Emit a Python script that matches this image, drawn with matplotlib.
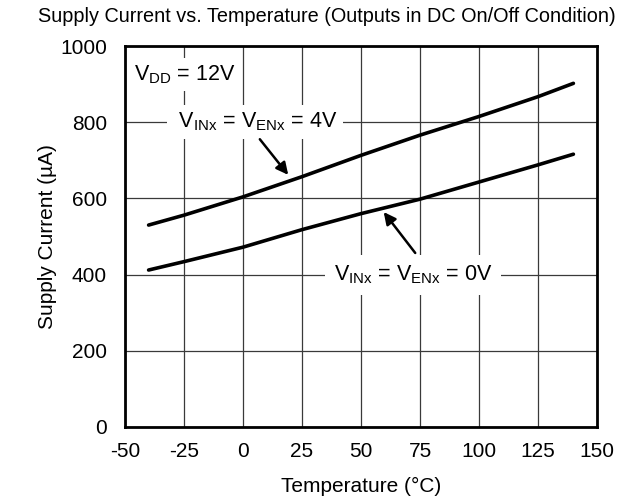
import matplotlib
matplotlib.use("Agg")
import matplotlib.pyplot as plt

temp = [-40, -25, 0, 25, 50, 75, 100, 125, 140]
on_4v = [530, 556, 604, 657, 713, 766, 815, 867, 902]
off_0v = [412, 434, 472, 518, 560, 598, 643, 688, 716]

xticks = [-50, -25, 0, 25, 50, 75, 100, 125, 150]
yticks = [0, 200, 400, 600, 800, 1000]

plt.rcParams['font.family'] = ['Liberation Sans', 'DejaVu Sans']
plt.rcParams['axes.unicode_minus'] = False
plt.rcParams['mathtext.fontset'] = 'custom'
plt.rcParams['mathtext.rm'] = 'Liberation Sans'

fig = plt.figure(figsize=(6.3, 4.99), dpi=100)
ax = fig.add_axes([125/630, 1-427/499, (597-125)/630, (427-46)/499])

ax.plot(temp, on_4v, color='black', lw=2.6, solid_capstyle='round', zorder=3)
ax.plot(temp, off_0v, color='black', lw=2.6, solid_capstyle='round', zorder=3)

ax.set_xlim(-50, 150)
ax.set_ylim(0, 1000)
ax.set_xticks(xticks)
ax.set_yticks(yticks)
ax.tick_params(axis='y', length=0, labelsize=15, pad=13)
ax.tick_params(axis='x', length=0, labelsize=15, pad=11)
ax.grid(True, color='#3a3a3a', lw=0.9)
ax.set_axisbelow(True)
for s in ax.spines.values():
    s.set_linewidth(2)

ax.set_xlabel('Temperature (°C)', fontsize=15, labelpad=11)
ax.set_ylabel('Supply Current (µA)', fontsize=15, labelpad=2)
fig.text(327/630, 1-17/499, 'Supply Current vs. Temperature (Outputs in DC On/Off Condition)',
         ha='center', va='center', fontsize=14.3)

box = dict(facecolor='white', edgecolor='none', pad=4)
ax.text(-46, 925, r'V$_{\mathregular{DD}}$ = 12V', fontsize=15.5, ha='left', va='center',
        zorder=4, bbox=box)
ax.text(5, 800, r' V$_{\mathregular{INx}}$ = V$_{\mathregular{ENx}}$ = 4V ', fontsize=15.5,
        ha='center', va='center', zorder=4, bbox=box)
ax.annotate('', xy=(19.9, 656), xytext=(6.4, 761),
            arrowprops=dict(arrowstyle='-|>', color='black', lw=1.8, mutation_scale=18), zorder=4)
ax.text(72, 399, r'V$_{\mathregular{INx}}$ = V$_{\mathregular{ENx}}$ = 0V', fontsize=15.5,
        ha='center', va='center', zorder=4, bbox=dict(facecolor='white', edgecolor='none', pad=6))
ax.annotate('', xy=(58.9, 570), xytext=(73.7, 451),
            arrowprops=dict(arrowstyle='-|>', color='black', lw=1.8, mutation_scale=18), zorder=4)

fig.savefig('out.png', dpi=100)
